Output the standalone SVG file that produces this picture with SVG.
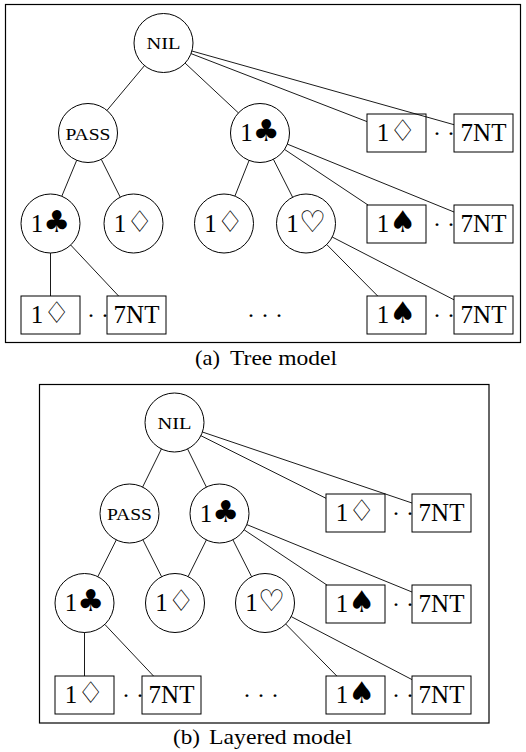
<svg xmlns="http://www.w3.org/2000/svg" width="526" height="752" viewBox="0 0 526 752">
  <style>
    .bg { fill: #ffffff; }
    .frame { fill: none; stroke: #000; stroke-width: 1.2; }
    .node { fill: #ffffff; stroke: #000; stroke-width: 1; }
    .edge { stroke: #000; stroke-width: 0.9; fill: none; }
    .lbl { font-family: "Liberation Serif", "Times New Roman", serif; font-size: 25px; fill: #000; text-anchor: middle; }
    .sc { font-family: "Liberation Serif", "Times New Roman", serif; font-size: 17.5px; fill: #000; text-anchor: middle; }
    .suit { font-family: "DejaVu Sans", sans-serif; font-size: 30px; }
    .dots { font-family: "Liberation Serif", "Times New Roman", serif; font-size: 24px; fill: #000; text-anchor: middle; }
    .cap { font-family: "Liberation Serif", "Times New Roman", serif; font-size: 22px; fill: #000; }
  </style>
  <rect class="bg" x="0" y="0" width="526" height="752"/>

  <!-- ===== (a) tree model ===== -->
  <rect class="frame" x="5.5" y="4.5" width="515" height="338"/>

  <g id="a-dots">
    <text class="dots" x="437" y="141">· · ·</text>
    <text class="dots" x="437" y="232">· · ·</text>
    <text class="dots" x="91" y="323">· · ·</text>
    <text class="dots" x="265" y="323">· · ·</text>
    <text class="dots" x="437" y="323">· · ·</text>
  </g>

  <g id="a-nil"><circle class="node" cx="163.5" cy="43" r="29.5"/><text class="sc" x="163.5" y="49" textLength="34" lengthAdjust="spacingAndGlyphs">NIL</text></g>
  <g id="a-pass"><circle class="node" cx="88" cy="133" r="29.5"/><text class="sc" x="88" y="140" textLength="45" lengthAdjust="spacingAndGlyphs">PASS</text></g>
  <g id="a-1c"><circle class="node" cx="260" cy="133" r="29.5"/><text class="lbl" x="260" y="141">1<tspan class="suit">♣</tspan></text></g>
  <g id="a-r2-1d"><rect class="node" x="367" y="114" width="59" height="38"/><text class="lbl" x="396.5" y="141">1<tspan class="suit">♢</tspan></text></g>
  <g id="a-r2-7nt"><rect class="node" x="454" y="114" width="59" height="38"/><text class="lbl" x="483.5" y="141">7NT</text></g>

  <g id="a-pass-1c"><circle class="node" cx="50.5" cy="223.5" r="29.5"/><text class="lbl" x="50.5" y="231.5">1<tspan class="suit">♣</tspan></text></g>
  <g id="a-pass-1d"><circle class="node" cx="133.5" cy="223.5" r="29.5"/><text class="lbl" x="133.5" y="231.5">1<tspan class="suit">♢</tspan></text></g>
  <g id="a-1c-1d"><circle class="node" cx="224" cy="223.5" r="29.5"/><text class="lbl" x="224" y="231.5">1<tspan class="suit">♢</tspan></text></g>
  <g id="a-1c-1h"><circle class="node" cx="306" cy="223.5" r="29.5"/><text class="lbl" x="306" y="231.5">1<tspan class="suit">♡</tspan></text></g>
  <g id="a-r3-1s"><rect class="node" x="367" y="205" width="59" height="38"/><text class="lbl" x="396.5" y="232">1<tspan class="suit">♠</tspan></text></g>
  <g id="a-r3-7nt"><rect class="node" x="454" y="205" width="59" height="38"/><text class="lbl" x="483.5" y="232">7NT</text></g>

  <g id="a-r4-1d"><rect class="node" x="21" y="296" width="59" height="38"/><text class="lbl" x="50.5" y="323">1<tspan class="suit">♢</tspan></text></g>
  <g id="a-r4-7nt-l"><rect class="node" x="107" y="296" width="59" height="38"/><text class="lbl" x="136.5" y="323">7NT</text></g>
  <g id="a-r4-1s"><rect class="node" x="367" y="296" width="59" height="38"/><text class="lbl" x="396.5" y="323">1<tspan class="suit">♠</tspan></text></g>
  <g id="a-r4-7nt-r"><rect class="node" x="454" y="296" width="59" height="38"/><text class="lbl" x="483.5" y="323">7NT</text></g>

  <g id="a-edges">
    <line class="edge" x1="144.5" y1="65.6" x2="107" y2="110.4"/>
    <line class="edge" x1="185.1" y1="63.1" x2="238.4" y2="112.9"/>
    <line class="edge" x1="191" y1="53.6" x2="367" y2="121.6"/>
    <line class="edge" x1="191.9" y1="51" x2="454" y2="124.7"/>
    <line class="edge" x1="76.7" y1="160.3" x2="61.8" y2="196.2"/>
    <line class="edge" x1="101.3" y1="159.4" x2="120.2" y2="197.1"/>
    <line class="edge" x1="249.1" y1="160.4" x2="234.9" y2="196.1"/>
    <line class="edge" x1="273.4" y1="159.3" x2="292.6" y2="197.2"/>
    <line class="edge" x1="284.5" y1="149.4" x2="368" y2="205"/>
    <line class="edge" x1="287.3" y1="144.1" x2="454" y2="212"/>
    <line class="edge" x1="50.5" y1="253" x2="50.5" y2="296"/>
    <line class="edge" x1="70.7" y1="245" x2="118.6" y2="296"/>
    <line class="edge" x1="326.7" y1="244.5" x2="377.7" y2="296"/>
    <line class="edge" x1="332.2" y1="237" x2="454" y2="299.8"/>
  </g>

  <text class="cap" x="195" y="365" textLength="25" lengthAdjust="spacingAndGlyphs">(a)</text>
  <text class="cap" x="230" y="365" textLength="107" lengthAdjust="spacingAndGlyphs">Tree model</text>

  <!-- ===== (b) layered model ===== -->
  <rect class="frame" x="39.5" y="384.5" width="449.5" height="338.5"/>

  <g id="b-dots">
    <text class="dots" x="396" y="521">· · ·</text>
    <text class="dots" x="396" y="612">· · ·</text>
    <text class="dots" x="126" y="703">· · ·</text>
    <text class="dots" x="261" y="703">· · ·</text>
    <text class="dots" x="396" y="703">· · ·</text>
  </g>

  <g id="b-nil"><circle class="node" cx="174.5" cy="422.5" r="29.5"/><text class="sc" x="174.5" y="428.5" textLength="34" lengthAdjust="spacingAndGlyphs">NIL</text></g>
  <g id="b-pass"><circle class="node" cx="129.5" cy="513.5" r="29.5"/><text class="sc" x="129.5" y="520" textLength="45" lengthAdjust="spacingAndGlyphs">PASS</text></g>
  <g id="b-1c"><circle class="node" cx="219.5" cy="513.5" r="29.5"/><text class="lbl" x="219.5" y="521.5">1<tspan class="suit">♣</tspan></text></g>
  <g id="b-r2-1d"><rect class="node" x="326" y="494" width="59" height="38"/><text class="lbl" x="355.5" y="521">1<tspan class="suit">♢</tspan></text></g>
  <g id="b-r2-7nt"><rect class="node" x="412" y="494" width="59" height="38"/><text class="lbl" x="441.5" y="521">7NT</text></g>

  <g id="b-r3-1c"><circle class="node" cx="84.5" cy="603" r="29.5"/><text class="lbl" x="84.5" y="611">1<tspan class="suit">♣</tspan></text></g>
  <g id="b-r3-1d"><circle class="node" cx="175" cy="603" r="29.5"/><text class="lbl" x="175" y="611">1<tspan class="suit">♢</tspan></text></g>
  <g id="b-r3-1h"><circle class="node" cx="265" cy="603" r="29.5"/><text class="lbl" x="265" y="611">1<tspan class="suit">♡</tspan></text></g>
  <g id="b-r3-1s"><rect class="node" x="326" y="585" width="59" height="38"/><text class="lbl" x="355.5" y="612">1<tspan class="suit">♠</tspan></text></g>
  <g id="b-r3-7nt"><rect class="node" x="412" y="585" width="59" height="38"/><text class="lbl" x="441.5" y="612">7NT</text></g>

  <g id="b-r4-1d"><rect class="node" x="55" y="676" width="59" height="38"/><text class="lbl" x="84.5" y="703">1<tspan class="suit">♢</tspan></text></g>
  <g id="b-r4-7nt-l"><rect class="node" x="142" y="676" width="59" height="38"/><text class="lbl" x="171.5" y="703">7NT</text></g>
  <g id="b-r4-1s"><rect class="node" x="326" y="676" width="59" height="38"/><text class="lbl" x="355.5" y="703">1<tspan class="suit">♠</tspan></text></g>
  <g id="b-r4-7nt-r"><rect class="node" x="412" y="676" width="59" height="38"/><text class="lbl" x="441.5" y="703">7NT</text></g>

  <g id="b-edges">
    <line class="edge" x1="161.4" y1="449" x2="142.6" y2="487.1"/>
    <line class="edge" x1="187.6" y1="449" x2="206.4" y2="487.1"/>
    <line class="edge" x1="200.9" y1="435.7" x2="326" y2="498.3"/>
    <line class="edge" x1="202.4" y1="432" x2="412" y2="503"/>
    <line class="edge" x1="116.3" y1="539.9" x2="97.8" y2="576.7"/>
    <line class="edge" x1="142.9" y1="539.8" x2="161.6" y2="576.7"/>
    <line class="edge" x1="206.4" y1="539.9" x2="188.1" y2="576.6"/>
    <line class="edge" x1="232.9" y1="539.8" x2="251.6" y2="576.7"/>
    <line class="edge" x1="244.1" y1="529.8" x2="326.9" y2="585"/>
    <line class="edge" x1="246.8" y1="524.6" x2="412" y2="592"/>
    <line class="edge" x1="84.5" y1="632.5" x2="84.5" y2="676"/>
    <line class="edge" x1="104.8" y1="624.4" x2="153.5" y2="676"/>
    <line class="edge" x1="285.7" y1="624" x2="336.8" y2="676"/>
    <line class="edge" x1="291.2" y1="616.6" x2="412" y2="679.6"/>
  </g>

  <text class="cap" x="173" y="744" textLength="27" lengthAdjust="spacingAndGlyphs">(b)</text>
  <text class="cap" x="209" y="744" textLength="143" lengthAdjust="spacingAndGlyphs">Layered model</text>
</svg>
